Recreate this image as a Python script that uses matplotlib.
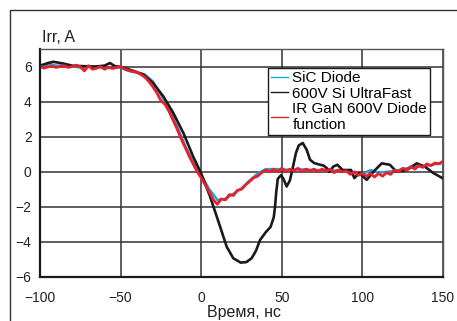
import numpy as np
import matplotlib.pyplot as plt
from matplotlib.lines import Line2D

plt.rcParams['font.family'] = ['Liberation Sans', 'DejaVu Sans']

# 600V Si UltraFast (black)
t_si = [-100, -95, -91.7, -85.5, -80, -73, -66, -60, -56.6, -53.5, -50, -42, -36, -30,
        -23.5, -17.3, -11, -5, 0, 5.5, 11.7, 15.8, 19.9, 24.5, 28, 31.3, 34, 36.5, 40,
        43, 45, 45.8, 46.5, 47.5, 49.5, 51, 53, 55, 56.5, 58.8, 60.5, 63, 65.4, 67.5,
        70, 73.7, 76, 78, 79.6, 82, 84.5, 87.7, 93, 95, 98, 102.7, 106.8, 112, 117,
        121.3, 127.5, 133.7, 138.8, 144, 149.6]
i_si = [6.05, 6.2, 6.27, 6.17, 6.05, 6.02, 6.0, 6.05, 6.2, 6.02, 5.98, 5.75, 5.55, 5.07,
        4.3, 3.35, 2.2, 0.87, -0.1, -1.41, -3.12, -4.27, -4.93, -5.18, -5.15, -4.93, -4.5,
        -3.89, -3.45, -3.15, -2.6, -2.0, -1.2, -0.4, -0.2, -0.4, -0.84, -0.5, 0.1, 1.08,
        1.5, 1.64, 1.26, 0.69, 0.5, 0.4, 0.35, 0.2, 0.0, 0.3, 0.4, 0.1, 0.1, -0.36, -0.07,
        -0.46, 0.0, 0.48, 0.4, 0.0, 0.1, 0.48, 0.29, -0.07, -0.36]

# SiC Diode (blue)
t_sic = [-100, -97.5, -95, -90, -85, -80, -75, -70, -65, -60, -55, -50, -45, -40, -35,
         -30, -25, -20, -15, -10, -5, 0, 5, 10, 15, 20, 25, 30, 35, 40, 45, 50, 55, 60,
         70, 80, 90, 95, 100, 105, 110, 115, 120, 130, 140, 150]
i_sic = [6.0, 5.9, 6.15, 6.05, 6.05, 6.0, 5.95, 6.0, 5.95, 5.95, 5.9, 5.95, 5.75, 5.65,
         5.55, 5.15, 4.4, 3.6, 2.6, 1.5, 0.55, -0.2, -1.0, -1.6, -1.55, -1.25, -0.95, -0.5,
         -0.1, 0.15, 0.15, 0.15, 0.1, 0.15, 0.1, 0.1, 0.0, -0.05, -0.15, 0.1, -0.05, 0.0,
         0.05, 0.25, 0.35, 0.5]

# IR GaN 600V Diode (red), sampled every 2.5 ns
t_gan = np.arange(-100, 150.1, 2.5)
i_gan = [6.05, 5.92, 5.98, 6.02, 5.95, 6.0, 6.05, 5.95, 6.0, 6.08, 5.98, 5.75, 6.05,
         5.85, 5.9, 6.0, 5.85, 5.95, 5.9, 5.95, 6.0, 5.85, 5.78, 5.72, 5.68, 5.55, 5.4,
         5.15, 4.85, 4.5, 4.05, 3.85, 3.45, 2.95, 2.45, 1.9, 1.4, 0.9, 0.45, 0.0, -0.35,
         -0.75, -1.15, -1.6, -1.85, -1.55, -1.6, -1.3, -1.35, -1.05, -1.0, -0.75, -0.55,
         -0.35, -0.25, -0.05, 0.1, 0.0, 0.15, 0.0, 0.2, 0.0, 0.15, 0.05, 0.2, 0.0, 0.15,
         0.05, 0.15, 0.0, 0.15, 0.05, 0.15, -0.05, 0.1, 0.0, 0.05, -0.15, 0.0, -0.2, -0.1,
         -0.25, -0.1, -0.3, -0.1, -0.25, -0.05, -0.15, 0.1, 0.0, 0.2, 0.1, 0.3, 0.15, 0.35,
         0.25, 0.45, 0.35, 0.5, 0.45, 0.6]

x_ticks = [-100, -50, 0, 50, 100, 150]
y_ticks = [-6, -4, -2, 0, 2, 4, 6]

fig = plt.figure(figsize=(4.57, 3.21), dpi=100)
ax = fig.add_axes([40 / 457, 1 - 277 / 321, 403 / 457, 228 / 321])

ax.plot(t_sic, i_sic, color='#1ea5e0', lw=1.8, label='SiC Diode')
ax.plot(t_si, i_si, color='#1a1a1a', lw=1.9, label='600V Si UltraFast')
ax.plot(t_gan, i_gan, color='#e8202a', lw=2.0, label='IR GaN 600V Diode\nfunction')

ax.set_xlim(-100, 150)
ax.set_ylim(-6, 7)
ax.set_xticks(x_ticks)
ax.set_yticks(y_ticks)
ax.set_xticklabels([str(v).replace('-', '\u2212') for v in x_ticks])
ax.set_yticklabels([str(v).replace('-', '\u2212') for v in y_ticks])
ax.tick_params(length=0, labelsize=10, colors='#222222')
ax.tick_params(axis='x', pad=10)
ax.tick_params(axis='y', pad=6)
ax.grid(True, color='#333333', lw=1.1)
ax.set_axisbelow(True)
for s in ['top', 'right']:
    ax.spines[s].set_color('#555555')
    ax.spines[s].set_linewidth(1.0)
for s in ['left', 'bottom']:
    ax.spines[s].set_color('#1a1a1a')
    ax.spines[s].set_linewidth(1.6)

leg = ax.legend(loc='upper left', bbox_to_anchor=((268 - 40) / 403, (277 - 68) / 228),
                fancybox=False, framealpha=1, edgecolor='#1a1a1a', fontsize=11,
                handlelength=1.1, handletextpad=0.3, borderpad=0.2, labelspacing=0.1,
                borderaxespad=0)
leg.get_frame().set_linewidth(1.0)
for h in leg.get_lines():
    h.set_linewidth(1.0)

fig.text(42 / 457, 1 - 38 / 321, 'Irr, A', fontsize=11.5, va='center', ha='left', color='#222222')
fig.text(244 / 457, 1 - 312 / 321, 'Время, нс', fontsize=11.5, va='center', ha='center',
         color='#222222')

fig.add_artist(Line2D([10 / 457, 10 / 457, 1.0], [0.0, 1 - 10 / 321, 1 - 10 / 321],
                      transform=fig.transFigure, color='#333333', lw=1.0))

fig.savefig('out.png', dpi=100)
